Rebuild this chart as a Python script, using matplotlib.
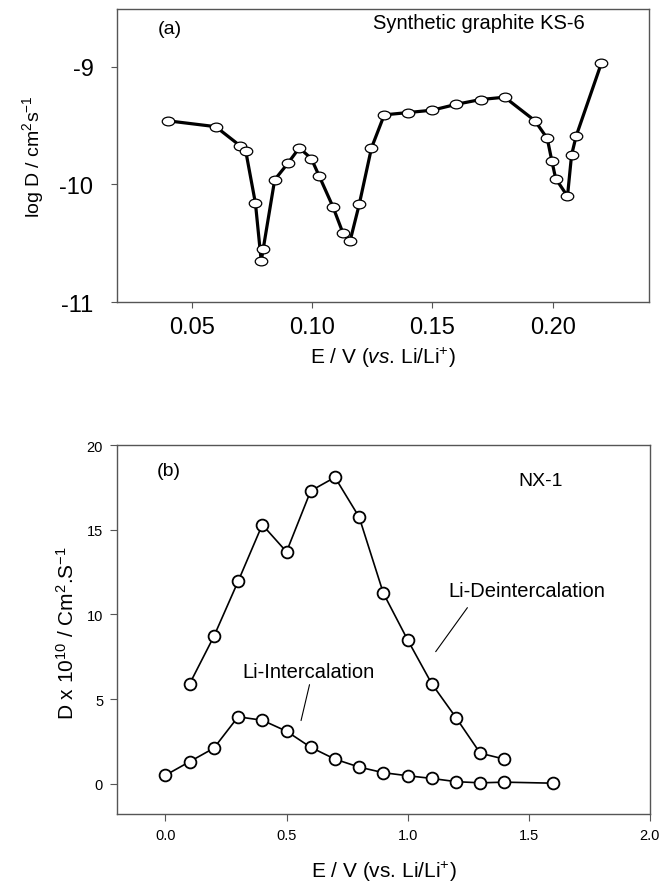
import matplotlib
matplotlib.use("Agg")
import matplotlib.pyplot as plt
from matplotlib.path import Path
from matplotlib.transforms import Affine2D

plt.rcParams['font.family'] = ['Liberation Sans', 'DejaVu Sans']
plt.rcParams['mathtext.fontset'] = 'custom'
plt.rcParams['mathtext.rm'] = 'Liberation Sans'
plt.rcParams['mathtext.it'] = 'Liberation Sans:italic'
plt.rcParams['axes.unicode_minus'] = False

# (a) synthetic graphite KS-6, log D vs E
ks6_E = [0.040, 0.060, 0.070, 0.0725, 0.0765, 0.0789, 0.0797, 0.0845, 0.090, 0.0947,
         0.0997, 0.103, 0.1087, 0.1128, 0.1158, 0.1196, 0.1247, 0.130, 0.140, 0.150,
         0.160, 0.170, 0.180, 0.1926, 0.1977, 0.1996, 0.2012, 0.2061, 0.2078, 0.2097, 0.2202]
ks6_logD = [-9.46, -9.51, -9.67, -9.72, -10.16, -10.65, -10.55, -9.96, -9.82, -9.69,
            -9.78, -9.93, -10.19, -10.41, -10.48, -10.17, -9.69, -9.41, -9.39, -9.37,
            -9.32, -9.28, -9.26, -9.46, -9.61, -9.80, -9.95, -10.10, -9.75, -9.59, -8.97]

# (b) NX-1, D x 1e10
nx_E_de = [0.1, 0.2, 0.3, 0.4, 0.5, 0.6, 0.7, 0.8, 0.9, 1.0, 1.1, 1.2, 1.3, 1.4]
nx_D_de = [5.9, 8.7, 11.95, 15.3, 13.7, 17.3, 18.1, 15.75, 11.25, 8.5, 5.9, 3.9, 1.8, 1.45]
nx_E_in = [0.0, 0.1, 0.2, 0.3, 0.4, 0.5, 0.6, 0.7, 0.8, 0.9, 1.0, 1.1, 1.2, 1.3, 1.4, 1.6]
nx_D_in = [0.5, 1.3, 2.1, 3.95, 3.75, 3.1, 2.15, 1.45, 0.98, 0.65, 0.47, 0.31, 0.12, 0.05, 0.09, 0.03]

ticks_a_x = [0.05, 0.10, 0.15, 0.20]
ticks_a_y = [-11, -10, -9]
ticks_b_x = [0.0, 0.5, 1.0, 1.5, 2.0]
ticks_b_y = [0, 5, 10, 15, 20]

spine_col = '#555555'

# flat ellipse marker like the scanned plot
ell = Path.unit_circle().transformed(Affine2D().scale(1.0, 0.7))

fig = plt.figure(figsize=(6.61, 8.87), dpi=100)

# ---------- panel (a)
ax1 = fig.add_axes([0.177, 0.658, 0.805, 0.331])
ax1.plot(ks6_E, ks6_logD, color='black', lw=2.3, marker=ell, ms=9,
         mfc='white', mec='black', mew=0.9, zorder=3)
ax1.set_xlim(0.019, 0.240)
ax1.set_ylim(-11, -8.51)
ax1.set_xticks(ticks_a_x)
ax1.set_xticklabels(['%.2f' % v for v in ticks_a_x])
ax1.set_yticks(ticks_a_y)
ax1.tick_params(axis='both', direction='out', length=4, width=0.8, color=spine_col,
                labelsize=17)
ax1.tick_params(axis='x', pad=6)
ax1.tick_params(axis='y', pad=13)
ax1.set_xlabel(r'E / V ($\mathit{vs}$. Li/Li$^{+}$)', fontsize=15)
ax1.set_ylabel(r'log D / cm$^{2}$s$^{-1}$', fontsize=14)
ax1.xaxis.set_label_coords(0.50, -0.145)
ax1.yaxis.set_label_coords(-0.133, 0.50)
ax1.text(0.036, -8.68, '(a)', fontsize=14, va='center')
ax1.text(0.1254, -8.63, 'Synthetic graphite KS-6', fontsize=14.5, va='center')
for s in ax1.spines.values():
    s.set_color(spine_col)
    s.set_linewidth(1.0)

# ---------- panel (b)
ax2 = fig.add_axes([0.177, 0.081, 0.806, 0.416])
ax2.plot(nx_E_de, nx_D_de, color='black', lw=1.2, marker='o', ms=8.5,
         mfc='white', mec='black', mew=1.3, zorder=3)
ax2.plot(nx_E_in, nx_D_in, color='black', lw=1.2, marker='o', ms=8.5,
         mfc='white', mec='black', mew=1.3, zorder=3)
ax2.set_xlim(-0.2, 2.0)
ax2.set_ylim(-1.8, 20)
ax2.set_xticks(ticks_b_x)
ax2.set_xticklabels(['%.1f' % v for v in ticks_b_x])
ax2.set_yticks(ticks_b_y)
ax2.tick_params(axis='both', direction='out', length=5, width=0.8, color=spine_col,
                labelsize=10.5, pad=5)
ax2.set_xlabel(r'E / V (vs. Li/Li$^{+}$)', fontsize=15)
ax2.set_ylabel(r'D x 10$^{10}$ / Cm$^{2}$.S$^{-1}$', fontsize=15)
ax2.xaxis.set_label_coords(0.50, -0.122)
ax2.yaxis.set_label_coords(-0.073, 0.493)
ax2.text(-0.037, 18.5, '(b)', fontsize=14, va='center')
ax2.text(1.457, 17.9, 'NX-1', fontsize=14, va='center')
ax2.text(1.17, 11.4, 'Li-Deintercalation', fontsize=14.5, va='center')
ax2.text(0.319, 6.6, 'Li-Intercalation', fontsize=14.5, va='center')
# pointer lines from the labels to the curves
ax2.annotate('', xy=(1.116, 7.8), xytext=(1.247, 10.4),
             arrowprops=dict(arrowstyle='-', lw=0.8, color='black', shrinkA=0, shrinkB=0))
ax2.annotate('', xy=(0.56, 3.73), xytext=(0.595, 5.85),
             arrowprops=dict(arrowstyle='-', lw=0.8, color='black', shrinkA=0, shrinkB=0))
for s in ax2.spines.values():
    s.set_color(spine_col)
    s.set_linewidth(1.0)

fig.savefig('out.png', dpi=100)
